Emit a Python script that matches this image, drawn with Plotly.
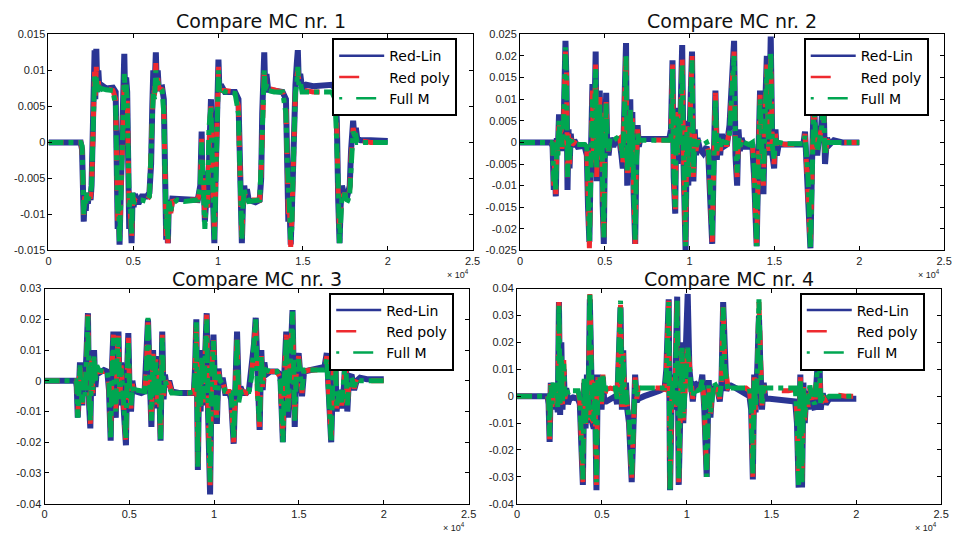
import numpy as np
import plotly.graph_objects as go

# ---------------- data (x in samples, y in units of 1e-3) ----------------
# Panel 1
X1 = [0, 1900, 1980, 2020, 2080, 2140, 2200, 2260, 2320, 2400, 2480, 2540, 2600, 2660, 2720, 2760, 2820, 2880, 2940, 3000,
      3100, 3400, 3800, 3960, 4020, 4080, 4130, 4190, 4240, 4300, 4360, 4420, 4470, 4520, 4580, 4640, 4700, 4760, 4820, 4900,
      4960, 5020, 5100, 5300, 5500, 5800, 5950, 6050, 6120, 6180, 6250, 6330, 6380, 6440, 6500, 6700, 6800, 6880, 6940, 6990,
      7040, 7100, 7200, 7300, 7600, 8000, 8800, 8950, 9030, 9080, 9140, 9220, 9300, 9380, 9460, 9520, 9580, 9640, 9700, 9780,
      9840, 9900, 9960, 10020, 10080, 10160, 10400, 11000, 11200, 11280, 11340, 11400, 11460, 11540, 11620, 11700, 11800, 12200, 12450, 12540,
      12600, 12660, 12720, 12780, 12850, 12950, 13300, 13800, 14000, 14080, 14140, 14200, 14280, 14340, 14420, 14500, 14560, 14640, 14700, 14760,
      14840, 14950, 15200, 15600, 16200, 16700, 16900, 17000, 17080, 17160, 17220, 17300, 17400, 17480, 17560, 17660, 17760, 17840, 17900, 17960,
      18040, 18120, 18200, 18400, 19000, 20000]
LIN1 = [0, 0, -1, -7, -11, -7, -9.5, -7, -8.5, -7, -8, -6, 3, 9, 12.8, 6, 13, 7, 10, 7.5,
        8, 7.5, 7.6, 7, -4, -12, -8, -14.2, -9, -2, 6, 10, 12.3, 6, 9, 7, -5, -12, -9, -14,
        -7, -9, -7.2, -8.5, -7.5, -7.5, -7, -3, 5, 10, 7, 12.5, 8, 10, 7.5, 7.6, 6, -6, -13.5, -9,
        -14, -8, -9.5, -7.8, -7.8, -7.8, -8, -6, 1.5, -7, -4, -11, -8, -9, 0, 4, 6, -3, -9, -14,
        -6, 3, 8, 11.5, 7, 8, 7, 7, 6, -4, -11, -14, -9, -6, -8, -6.5, -8, -8.3, -8, -5,
        4, 9, 12.5, 7, 9.5, 7.3, 7.2, 7, 6, -5, -11, -8, -14.2, -10, -2, 6, 8, 11, 12.8, 8,
        9.5, 7.5, 8, 7.8, 7.8, 8, 7.5, 3, -8, -14, -9, -6, -7, -6.5, -8, -7, -6, -1, 2, 3,
        0.5, 2, 0.5, 0.3, 0.3, 0.2]
POLY1 = [0, 0, -1, -6, -10.5, -7.5, -9, -7.5, -8, -7.5, -7.5, -6.5, 2, 8, 10, 6.5, 10.5, 7.5, 8.5, 7.2,
         7, 7.5, 7.2, 6, -3, -11, -8.5, -13.5, -9.5, -3, 5, 8.5, 9, 6.5, 7.5, 7, -4, -10, -9.5, -13.5,
         -8, -8.5, -8, -8.5, -8, -8, -7.5, -2, 4, 8, 6.5, 11, 8.5, 9, 7.5, 7.3, 5, -5, -13, -9.5,
         -14, -8.5, -10, -8.2, -8, -8, -8, -6.5, 0.5, -6, -5, -10.5, -8.5, -9, 1, 3, 5, -2, -8, -13,
         -7, 2, 7, 10.5, 7.5, 7.2, 7.2, 7, 5, -3, -10, -14, -9.5, -7, -7.5, -7, -8, -8, -8, -4,
         3, 8, 10.5, 7.5, 8.5, 7.5, 7.3, 7, 5, -4, -10, -8.5, -14.5, -11, -3, 5, 7.5, 9, 10, 8.5,
         8.5, 7.3, 7.2, 7, 7, 7, 6.8, 2, -7, -12.5, -10, -7, -7.5, -7, -8.5, -7.5, -6.5, -2, 1, 2,
         1, 1.5, 0.3, 0.2, 0, 0]
FULL1 = [0, 0, -0.5, -5, -10, -8, -8.5, -7, -8, -7.5, -7, -6, 1, 7, 9.5, 7, 9, 7, 8, 7,
         7.5, 7.3, 7.2, 5, -2, -10, -8, -14, -10, -3, 4, 7.5, 9.5, 7, 8, 6, -3, -9, -8, -13,
         -7, -8.5, -8.2, -8, -8, -8.2, -7.5, -1, 3, 7, 6, 10, 8, 8.5, 7.8, 7.2, 4, -4, -12, -10,
         -13.5, -8, -9.5, -8.5, -8, -8.2, -8, -6, 0, -5, -6, -12, -8, -8.5, 2, 4, 5, -1, -7, -13.5,
         -8, 1, 6, 10, 7, 7.5, 7, 6.8, 4, -2, -9, -13.5, -9, -6.5, -7.5, -7.5, -8.2, -8, -8, -3,
         2, 7, 10, 7, 8, 7.2, 7, 7, 4, -3, -9, -9, -13.5, -12, -4, 4, 7, 8, 10.5, 8,
         8.5, 7, 7, 7, 7, 7, 6, 1, -6, -14, -11, -7.5, -8, -7, -8.5, -8, -7, -3, 0.5, 1.5,
         1, 1, 0, 0, 0, 0]

# Panel 2
X2 = [0, 1850, 1920, 1990, 2040, 2110, 2170, 2230, 2300, 2360, 2420, 2480, 2560, 2620, 2680, 2740, 2800, 2860, 2920, 2990,
      3060, 3200, 3400, 3800, 3940, 4010, 4090, 4150, 4210, 4270, 4330, 4400, 4460, 4520, 4580, 4640, 4700, 4760, 4820, 4870,
      4940, 5000, 5080, 5140, 5220, 5320, 5500, 5700, 5880, 5980, 6060, 6150, 6250, 6320, 6380, 6440, 6500, 6560, 6620, 6700,
      6790, 6860, 6930, 7000, 7100, 7400, 8200, 8800, 8900, 8990, 9060, 9150, 9220, 9280, 9340, 9400, 9470, 9560, 9640, 9760,
      9840, 9920, 10000, 10140, 10220, 10300, 10380, 10460, 10600, 10800, 11000, 11100, 11200, 11330, 11420, 11520, 11600, 11700, 11800, 11900,
      12000, 12200, 12350, 12520, 12620, 12700, 12800, 12880, 12960, 13060, 13200, 13500, 13700, 13800, 13950, 14050, 14150, 14250, 14350, 14450,
      14550, 14650, 14780, 14880, 14980, 15060, 15140, 15250, 15600, 16200, 16700, 16800, 16880, 16980, 17120, 17220, 17320, 17420, 17520, 17620,
      17760, 17880, 17980, 18100, 18250, 18500, 19000, 20000]
LIN2 = [0, 0, -1, -11, -4, -12.5, 1, -2, 6.5, -1, 5, -2, 2, 12, 23.5, 14, -11, 3, -6, 2,
        -1, 0.5, -1, -0.8, -3, -15, -23, -8, 4, 13.5, -7, 14, 21, -9, 10, -5, 12, -1, 8, -14,
        -23.5, -2, 11.5, -1, -3, 1, -1, 1, 0, -3, -6, 8, 23, -10, 4, -3, 10, -8, 7, -12,
        -23.5, -3, 4, -1, 1, 0.8, 0.8, 0.8, 3, 19, -8, -16.5, 8, -5, 8, -3, 8, 22.5, -5, -25,
        5, -10, 3, 21, -9, 3, -3, 1, -1.5, -2.5, -1, -3, -12, -23.5, -4, 12, -4, 2, -3, 2,
        -1, -0.5, 4, 20, 23.5, -3, -10, 3, -2, 1, -1, -1, -1, -8, -24, -4, 12, -1, -12, 8,
        20, -3, 24.5, -3, -6, 3, -3, -0.5, -0.5, -0.5, -0.5, 2.5, -5, -10, -24.5, -4, 11, 0, -3, 1,
        4, 12, -5, 1, -0.5, 0.5, 0, 0]
POLY2 = [0, 0, -0.5, -10, -5, -12, 0.5, -3, 6, 0, 4, -1.5, 2.5, 10, 21, 16, -9, 2, -5, 1,
         -0.5, 0, -0.5, -0.6, -2, -12, -24.5, -10, 3, 12, -5, 13, 18, -8, 9, -4, 10.5, -2, 7, -12,
         -23, -4, 10, 0, -2, 0.5, 0, 0.5, 1, -2, -5, 7, 21, -8, 3, -2, 9, -7, 6, -11,
         -23.5, -4, 3, 0, 0.5, 0.6, 0.5, 0.5, 2, 18, -7, -16, 7, -4, 7, -2, 6, 20, -4, -23,
         4, -9, 2, 20, -8, 2, -2, 0.5, -0.5, -1, -0.5, -2, -10, -23, -5, 11.5, -3, 1.5, -2, 1,
         -0.5, -0.5, 3, 18, 21, -2, -8, 2, -1, 1, -0.5, -0.5, -0.5, -7, -23.5, -5, 11, -2, -10, 7,
         18, -2, 20, -2, -5, 2, -2, 0, -0.5, -0.5, -0.5, 2, -4, -9, -24, -5, 10, 1, -2.5, 0.5,
         3, 11, -4, 0.5, 0, 0.3, 0, 0]
FULL2 = [0, 0, -0.5, -9, -6, -11.5, 0, -3, 5, 1, 3.5, -1, 3, 9, 22, 15, -8, 1, -4, 0.5,
         0, -0.5, -0.5, -0.5, -1, -10, -23, -12, 5, 10, -4, 12, 17, -6, 8, -3, 9, -3, 6, -10,
         -22, -5, 9, 1, -2, 1, 0.5, 1, 0.5, -1, -4, 6, 20, -7, 2, -1, 8, -6, 5, -10,
         -22.5, -5, 2, 0.5, 0.5, 0.5, 0.5, 0.5, 1, 17, -6, -15, 6, -3, 6, -1, 7, 18, -3, -24,
         3, -8, 1, 19, -7, 1, -1, 0, 0, -0.5, 0, -1, -9, -22, -6, 10, -2, 1, -1, 0.5,
         0, 0, 2, 17, 20, -1, -7, 1, -1, 0.5, 0, -0.5, 0, -6, -24, -6, 10, -1, -9, 6,
         17, -1, 21, -1, -4, 1, -1, 0, -0.3, -0.3, -0.3, 1.5, -3, -8, -24.5, -6, 9, 2, -2, 0,
         2, 10, -3, 0, 0, 0, 0, 0]

# Panel 3
X3 = [0, 1850, 1900, 1960, 2020, 2090, 2150, 2230, 2300, 2380, 2480, 2560, 2630, 2700, 2780, 2850, 2920, 3000, 3080, 3200,
      3500, 3700, 3800, 3900, 3980, 4060, 4120, 4200, 4280, 4360, 4440, 4520, 4620, 4700, 4800, 4880, 4940, 5020, 5100, 5180,
      5260, 5400, 5700, 5900, 6000, 6100, 6200, 6300, 6400, 6480, 6560, 6640, 6740, 6840, 6940, 7020, 7100, 7200, 7350, 7500,
      8000, 8500, 8800, 8880, 8950, 9040, 9120, 9200, 9280, 9360, 9440, 9560, 9640, 9760, 9860, 9960, 10060, 10160, 10260, 10360,
      10500, 10650, 10900, 11000, 11150, 11250, 11350, 11450, 11550, 11700, 11900, 12050, 12200, 12350, 12450, 12550, 12680, 12780, 12860, 12960,
      13060, 13300, 13700, 13900, 14050, 14150, 14250, 14350, 14450, 14620, 14750, 14850, 14980, 15080, 15180, 15300, 15600, 16000, 16500, 16640,
      16740, 16900, 17000, 17120, 17220, 17320, 17420, 17520, 17650, 17750, 17850, 17950, 18100, 18250, 18400, 18600, 19000, 20000]
LIN3 = [0, 0, -2, -12, -4, 6, -2, -8, 3, -3, 10, 22, -8, -15.5, 8, -5, 10, -2, 3, 2.5,
        3.5, 3, -3, -19.5, 5, 16, -6, -12, 10, 16, -8, 6, -5, -12, -21, 5, 15.5, -5, -10, 0,
        -3, -3.5, -4, -3.5, 5, 20, 2, -15, 10, -5, 8, -9, 5, -19.5, 16, -6, 2, -2, 0, -3.5,
        -4, -4, -4, 5, 20, -29, 5, -10, 10, -8, 6, 22, -10, -37, 5, 15, -5, -14, 4, -2,
        1, -4, -4, -6, -20.5, 5, 16, -5, -2, -4, -4, -3, 3, 12, 20.5, -5, -16, 10, -3, 6,
        2, 3, 3, 2, -20, 4, 16, -12, 5, 23, -15, 5, 9, -2, -5, 3, 3.5, 4, 4.5, 9,
        -5, -20, 0, 13, -10, -3, -5, -9, -2, 9, -10, 1, 2, -3, 0, 1, 0.5, 0.5]
POLY3 = [0, 0, -1, -11, -5, 5.5, -3, -7.5, 2, -4, 9, 21.5, -7, -14, 7, -4, 9, -1, 4, 3,
         3, 3.5, -2, -18, 4, 15, -5, -11, 9, 15, -7, 5, -4, -11, -20, 4, 14, -4, -9, -1,
         -3.5, -3.5, -3.5, -4, 4, 19, 1, -14, 9, -4, 7, -8, 4, -20, 15, -5, 1, -1, -1, -3.5,
         -4, -4, -4, 4, 19.5, -27, 4, -9, 9, -7, 5, 21.5, -9, -34, 4, 14, -4, -13, 3, -1,
         0, -3.5, -3.5, -5, -20, 4, 15, -6, -3, -3.5, -4, -3, 2, 11, 20, -4, -15, 9, -2, 5,
         3, 3, 3, 1, -19, 3, 15, -11, 4, 22, -14, 4, 8, -1, -4, 3, 3.5, 3.5, 3.5, 8,
         -4, -19, 1, 12, -9, -4, -4, -8, -1, 8, -9, 0, 1.5, -2.5, 0.5, 0.5, 0, 0]
FULL3 = [0, 0, -1, -12, -6, 5, -4, -7, 1, -5, 8, 21, -6, -13, 6, -3, 8, 0, 5, 3.5,
         3, 3, -1, -19, 3, 14, -4, -10, 8, 14, -6, 4, -3, -10, -19, 3, 13, -3, -8, -2,
         -4, -3, -3.5, -3.5, 3, 20.5, 0, -13, 8, -3, 6, -7, 3, -19, 14, -4, 0, -1.5, -2, -4,
         -4, -4, -3.5, 3, 19, -28, 3, -8, 8, -6, 4, 20, -8, -33, 3, 13, -3, -12, 2, 0,
         -1, -3.5, -4, -4, -19, 3, 14, -7, -4, -3.5, -3.5, -3.5, 1, 10, 20, -3, -14, 8, -1, 4,
         3.5, 3, 3, 0, -20, 2, 14, -10, 3, 22.5, -13, 3, 7, 0, -3, 3.5, 3.5, 3.5, 3.5, 7,
         -3, -20, 2, 13, -8, -5, -3, -7, 0, 7, -8, -1, 1, -2, 0.5, 0, 0, 0]

# Panel 4
X4 = [0, 1800, 1860, 1920, 1990, 2060, 2130, 2200, 2270, 2330, 2400, 2470, 2540, 2610, 2680, 2750, 2820, 2900, 3000, 3100,
      3300, 3600, 3700, 3800, 3880, 3960, 4040, 4120, 4200, 4290, 4360, 4440, 4520, 4580, 4680, 4760, 4830, 4900, 4980, 5060,
      5140, 5260, 5500, 5800, 5900, 6000, 6100, 6180, 6260, 6340, 6420, 6500, 6600, 6760, 6860, 6960, 7060, 7150, 7500, 8000,
      8400, 8700, 8800, 8940, 9020, 9100, 9200, 9300, 9440, 9530, 9620, 9720, 9800, 9900, 10060, 10160, 10260, 10360, 10460, 10600,
      10800, 10920, 11040, 11180, 11300, 11400, 11500, 11620, 11800, 11950, 12050, 12150, 12240, 12340, 12440, 12600, 12900, 13200, 13500, 13700,
      13800, 13900, 13980, 14060, 14160, 14260, 14340, 14440, 14540, 14640, 14900, 15400, 16000, 16400, 16500, 16600, 16700, 16800, 16880, 16960,
      17060, 17160, 17260, 17400, 17550, 17700, 17800, 17900, 18020, 18200, 18400, 18800, 19400, 20000]
LIN4 = [0, 0, -3, -17, 5, -5, 4, -2, 3, -4, -6, 35, -7, 20, -5, 10, -2, 3, -3, -1,
        -0.5, -1, -3, -20, -33, 5, -12, 8, -10, 36, 12, -10, -12, 8, -35, 8, -2, 5, -5, 7,
        -2, -2, -1, 0, -3, 20, 33, -5, 17, -5, 5, -5, -10, -32, -10, 8, -2, -1, 0, 1,
        2, 3, 10, 36, -35, -5, 8, -5, 37, -33, -5, 20, -10, 5, 38, 10, 3, -2, 5, 4,
        3, 8, -5, -30, 6, -8, 2, 3, 3, -2, 5, 35, 10, 2, 4, 4, 3, 2, 1, 0,
        -5, -31, 8, -6, 10, 30, 12, -5, 5, -1, -1, -1.5, -2, -2, -10, -34, 8, -34, 5, -10,
        2, -5, 2, -3, -5, 10, 20, -5, 1, -3, -1, -1, -1, -1]
POLY4 = [0, 0, -2, -16, 4.5, -4, 5, -1, 4, -3, -5, 35, -5, 16, -3, 14, -1, 2, 2, 2,
         2, 2, -2, -18, -32, 6, -11, 7, -9, 38, 10, -9, -10, 6, -33, 7, -1, 6, -3, 8,
         0, 2.5, 3, 2.5, -2, 19, 34, -4, 16, -4, 4, -4, -9, -31, -9, 7, -1, 3, 3, 3,
         3, 2.5, 9, 35.5, -34, -4, 7, -4, 37, -32, -4, 19, -9, 4, 19, 12, 2, -1, 4, 3,
         2, 7, -4, -29, 5, -7, 1, 4, 2, -1, 6, 34.5, 12, 8, 3, 3, 3, 3, 3, 2,
         -4, -30, 7, -5, 9, 35, 15, -4, 4, 2, 2, 2, 2, 2.5, -8, -32, 7, -33, 4, -9,
         1, -4, 3, -2, -4, 12, 19, -4, 0, -2, 0.5, 0.5, 0, 0]
FULL4 = [0, 0, -1, -15, 4, -3, 5, 0, 5, -2, -4, 34, -3, 15, -2, 12, 0, 3, 1, 2,
         2, 2, -1, -17, -31, 7, -10, 6, -8, 38.5, 11, -8, -9, 5, -32, 6, 0, 7, -2, 7.5,
         1, 3, 3, 3, -1, 18, 35.5, -3, 15, -3, 3, -3, -8, -30, -8, 6, 0, 3, 3, 3,
         3, 3, 8, 35, -35, -3, 6, -3, 36, -31, -3, 18, -8, 3, 18, 11, 1, 0, 3, 2,
         2.5, 6, -3, -30, 4, -6, 0, 5, 3, 0, 5, 33, 11, 6, 2, 3, 3, 3, 3, 3,
         -3, -29, 6, -4, 8, 36, 13, -3, 3, 3, 3, 3, 3, 3, -7, -33, 6, -32, 3, -8,
         0, -3, 4, -1, -3, 11, 18, -3, 0, -1, 0, 0, 0, 0]

SERIES_NAMES = ["Red-Lin", "Red poly", "Full M"]
TITLES = ["Compare MC nr. 1", "Compare MC nr. 2", "Compare MC nr. 3", "Compare MC nr. 4"]
X_TICKS = [0, 5000, 10000, 15000, 20000, 25000]
X_TICKTEXT = ["0", "0.5", "1", "1.5", "2", "2.5"]
Y_TICKS = [
    [-0.015, -0.01, -0.005, 0, 0.005, 0.01, 0.015],
    [-0.025, -0.02, -0.015, -0.01, -0.005, 0, 0.005, 0.01, 0.015, 0.02, 0.025],
    [-0.04, -0.03, -0.02, -0.01, 0, 0.01, 0.02, 0.03],
    [-0.04, -0.03, -0.02, -0.01, 0, 0.01, 0.02, 0.03, 0.04],
]
Y_TICKTEXT = [
    ["-0.015", "-0.01", "-0.005", "0", "0.005", "0.01", "0.015"],
    ["-0.025", "-0.02", "-0.015", "-0.01", "-0.005", "0", "0.005", "0.01", "0.015", "0.02", "0.025"],
    ["-0.04", "-0.03", "-0.02", "-0.01", "0", "0.01", "0.02", "0.03"],
    ["-0.04", "-0.03", "-0.02", "-0.01", "0", "0.01", "0.02", "0.03", "0.04"],
]

panels = [(X1, LIN1, POLY1, FULL1), (X2, LIN2, POLY2, FULL2),
          (X3, LIN3, POLY3, FULL3), (X4, LIN4, POLY4, FULL4)]

W, H = 961, 541
# axes boxes in pixels: left, right, top, bottom
BOXES = [(46, 475, 29, 250), (523, 952, 29, 250), (42, 471, 289, 509), (520, 949, 289, 509)]
LEG_POS = [(333, 33), (810, 33), (330, 293), (806, 293)]
TITLE_CENTER = [15, 15, 279, 279]

BLUE = "#2A3594"
RED = "#EE2A2F"
GREEN = "#00A651"
TXT = "Liberation Sans, Arial, sans-serif"
WIDE = "DejaVu Sans, sans-serif"

fig = go.Figure()
styles = [dict(color=BLUE, width=6, dash="solid"),
          dict(color=RED, width=5, dash="dash"),
          dict(color=GREEN, width=5, dash="dashdot")]
leg_styles = [dict(color=BLUE, width=2.5, dash="solid"),
              dict(color=RED, width=2.5, dash="20px,40px"),
              dict(color=GREEN, width=2.5, dash="3px,14px,20px,20px")]

layout = dict(width=W, height=H, margin=dict(l=0, r=0, t=0, b=0),
              paper_bgcolor="white", plot_bgcolor="white", showlegend=True)
annotations = []

for i, (xs, lin, poly, full) in enumerate(panels):
    k = i + 1
    sx = "" if k == 1 else str(k)
    xa, ya = "x" + sx, "y" + sx
    leg = "legend" + sx
    x = np.array(xs, dtype=float)
    for name, ys, st in zip(SERIES_NAMES, (lin, poly, full), styles):
        fig.add_trace(go.Scatter(x=x, y=np.array(ys, dtype=float) * 1e-3, mode="lines",
                                 name=name, line=st, xaxis=xa, yaxis=ya,
                                 showlegend=False, legendgroup=f"{name}{k}"))
    # legend keys (thin sample lines, as in the reference legend)
    for name, st in zip(SERIES_NAMES, leg_styles):
        fig.add_trace(go.Scatter(x=[None], y=[None], mode="lines", name=name, line=st,
                                 xaxis=xa, yaxis=ya, legend=leg, showlegend=True,
                                 legendgroup=f"{name}{k}"))
    l, r, t, b = BOXES[i]
    axcommon = dict(showline=True, linecolor="black", linewidth=1, mirror="ticks",
                    ticks="inside", ticklen=4, tickcolor="black", showgrid=False,
                    zeroline=False, tickfont=dict(family=TXT, size=11, color="#222"))
    layout["xaxis" + sx] = dict(domain=[l / W, r / W], anchor=ya, range=[0, 25000],
                                tickvals=X_TICKS, ticktext=X_TICKTEXT, **axcommon)
    layout["yaxis" + sx] = dict(domain=[1 - b / H, 1 - t / H], anchor=xa,
                                range=[Y_TICKS[i][0], Y_TICKS[i][-1]],
                                tickvals=Y_TICKS[i], ticktext=Y_TICKTEXT[i], **axcommon)
    lx, ly = LEG_POS[i]
    layout[leg] = dict(x=lx / W, y=1 - ly / H, xanchor="left", yanchor="top",
                       bgcolor="white", bordercolor="black", borderwidth=2,
                       font=dict(family=WIDE, size=14, color="black"),
                       itemwidth=45, tracegroupgap=0)
    annotations.append(dict(text=TITLES[i], x=(l + r) / 2 / W, y=1 - TITLE_CENTER[i] / H,
                            xref="paper", yref="paper", showarrow=False,
                            xanchor="center", yanchor="middle",
                            font=dict(family=WIDE, size=19, color="#111")))
    annotations.append(dict(text="× 10<sup>4</sup>", x=(r - 2) / W, y=1 - (b + 24) / H,
                            xref="paper", yref="paper", showarrow=False,
                            xanchor="right", yanchor="middle",
                            font=dict(family=TXT, size=9, color="#222")))

layout["annotations"] = annotations
fig.update_layout(**layout)
fig.write_html("out.html")
